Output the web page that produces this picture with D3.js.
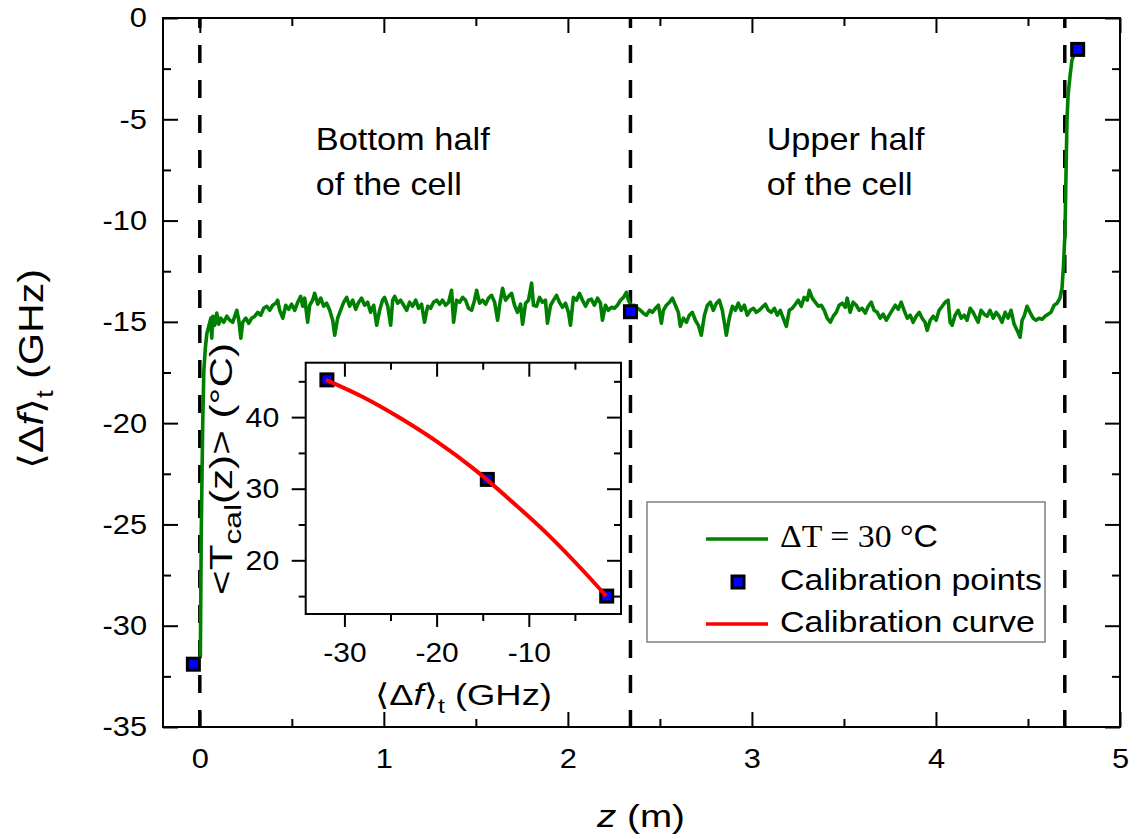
<!DOCTYPE html>
<html><head><meta charset="utf-8">
<script src="https://cdn.jsdelivr.net/npm/d3@7"></script>
<style>
html,body{margin:0;padding:0;background:#fff;}
svg{display:block;}
text{font-family:"Liberation Sans",Arial,"DejaVu Sans",sans-serif;fill:#000;}
</style></head><body>
<svg id="c" width="1141" height="839"></svg>
<script>
// ---------------- data ----------------
const greenZ = [0.000,0.003,0.008,0.016,0.022,0.030,0.038,0.049,0.060,0.065,0.071,0.081,0.092,0.103,0.114,0.130,0.147,0.163,0.179,0.201,0.212,0.223,0.233,0.250,0.266,0.282,0.299,0.315,0.331,0.347,0.364,0.380,0.396,0.413,0.423,0.434,0.451,0.467,0.483,0.499,0.516,0.532,0.548,0.559,0.570,0.586,0.597,0.613,0.624,0.641,0.657,0.673,0.689,0.706,0.722,0.733,0.749,0.765,0.782,0.798,0.814,0.831,0.847,0.863,0.879,0.896,0.912,0.928,0.945,0.961,0.977,0.993,1.004,1.021,1.037,1.048,1.059,1.075,1.091,1.108,1.124,1.140,1.156,1.173,1.189,1.205,1.221,1.238,1.254,1.270,1.287,1.303,1.319,1.336,1.352,1.368,1.379,1.395,1.412,1.428,1.444,1.460,1.477,1.493,1.504,1.520,1.536,1.553,1.569,1.585,1.602,1.618,1.629,1.645,1.661,1.678,1.694,1.710,1.726,1.743,1.754,1.770,1.786,1.803,1.813,1.830,1.846,1.862,1.878,1.889,1.906,1.922,1.938,1.954,1.971,1.987,2.003,2.014,2.030,2.047,2.063,2.079,2.096,2.112,2.128,2.144,2.161,2.177,2.188,2.204,2.220,2.237,2.253,2.269,2.286,2.302,2.318,2.329,2.345,2.362,2.378,2.394,2.410,2.427,2.443,2.459,2.476,2.492,2.508,2.519,2.535,2.552,2.568,2.584,2.600,2.611,2.628,2.644,2.660,2.676,2.693,2.709,2.725,2.742,2.758,2.774,2.790,2.807,2.823,2.839,2.850,2.861,2.877,2.894,2.910,2.926,2.942,2.959,2.975,2.991,3.008,3.024,3.040,3.056,3.073,3.089,3.105,3.122,3.138,3.154,3.170,3.187,3.203,3.219,3.236,3.252,3.268,3.284,3.301,3.312,3.328,3.344,3.361,3.377,3.393,3.409,3.426,3.442,3.458,3.474,3.491,3.507,3.518,3.534,3.550,3.567,3.583,3.599,3.616,3.632,3.648,3.664,3.681,3.697,3.713,3.730,3.746,3.762,3.779,3.795,3.811,3.827,3.844,3.860,3.876,3.893,3.909,3.925,3.941,3.952,3.969,3.985,4.001,4.017,4.034,4.050,4.066,4.077,4.088,4.104,4.121,4.137,4.153,4.169,4.186,4.202,4.218,4.229,4.245,4.262,4.278,4.294,4.311,4.327,4.343,4.359,4.376,4.392,4.408,4.425,4.441,4.457,4.468,4.479,4.495,4.511,4.528,4.544,4.560,4.577,4.593,4.609,4.625,4.642,4.658,4.674,4.685,4.693,4.701,4.707,4.712,4.718,4.729,4.739,4.756,4.767];
const greenF = [-31.6,-31.5,-25.3,-19.9,-17.4,-16.3,-15.6,-15.2,-14.82,-15.81,-14.72,-15.17,-14.57,-15.12,-14.82,-15.02,-14.72,-14.92,-15.02,-14.43,-14.92,-15.81,-15.02,-14.82,-15.07,-14.82,-14.72,-14.53,-14.67,-14.33,-14.23,-14.43,-14.18,-14.08,-13.93,-14.43,-14.82,-14.18,-14.38,-14.13,-14.43,-14.03,-13.74,-14.23,-13.83,-15.02,-14.18,-13.93,-13.59,-14.13,-13.83,-14.23,-14.08,-14.43,-14.92,-15.66,-14.82,-14.43,-14.03,-13.79,-14.23,-13.93,-14.38,-14.03,-13.83,-14.18,-14.03,-14.53,-14.18,-15.17,-14.43,-13.93,-13.79,-14.23,-15.17,-13.93,-13.74,-14.08,-13.93,-14.18,-14.43,-14.03,-14.23,-13.93,-14.33,-14.13,-15.02,-14.23,-14.33,-14.03,-13.93,-14.13,-13.93,-14.18,-14.03,-13.44,-15.02,-13.93,-14.03,-13.79,-13.93,-14.33,-14.43,-13.93,-13.44,-14.08,-13.93,-14.13,-13.83,-13.69,-14.03,-14.92,-14.18,-13.34,-13.93,-13.74,-13.59,-14.18,-14.53,-14.13,-15.12,-14.08,-13.93,-13.09,-14.18,-14.23,-13.79,-14.03,-13.93,-15.07,-14.18,-13.93,-13.69,-14.03,-14.28,-14.08,-14.53,-15.17,-13.79,-13.93,-13.59,-13.93,-14.23,-13.93,-13.88,-14.18,-13.83,-14.08,-14.92,-14.18,-14.43,-14.28,-14.33,-14.18,-13.93,-13.79,-13.54,-13.93,-14.23,-14.18,-14.33,-14.43,-14.57,-14.67,-14.43,-14.53,-14.33,-14.18,-15.07,-14.43,-14.18,-14.03,-13.83,-14.18,-14.53,-15.22,-14.82,-15.02,-14.67,-14.53,-14.92,-15.17,-15.66,-14.67,-14.18,-14.03,-14.43,-14.08,-13.93,-14.43,-15.02,-15.66,-14.82,-14.23,-14.43,-14.08,-14.43,-14.18,-14.67,-14.43,-14.33,-14.53,-14.43,-14.28,-14.13,-14.43,-14.53,-14.33,-14.67,-14.43,-14.82,-15.22,-14.43,-14.33,-14.13,-13.93,-14.23,-13.79,-13.93,-13.44,-13.83,-14.03,-14.23,-14.18,-14.43,-14.82,-15.02,-14.72,-14.53,-14.18,-14.08,-14.28,-13.83,-14.53,-14.03,-14.18,-14.43,-14.33,-14.57,-14.23,-14.03,-14.43,-14.53,-14.82,-14.62,-14.92,-14.67,-14.43,-14.18,-14.38,-14.03,-14.43,-14.82,-14.67,-15.02,-14.72,-14.53,-14.82,-15.02,-15.42,-14.92,-14.72,-14.92,-14.43,-14.23,-14.03,-13.93,-15.02,-15.17,-14.67,-14.43,-14.82,-14.67,-14.92,-14.33,-14.53,-14.82,-15.02,-14.43,-14.62,-14.72,-14.43,-14.82,-14.53,-14.72,-15.02,-14.53,-14.82,-14.43,-15.12,-15.42,-15.76,-14.92,-14.72,-14.23,-14.53,-14.82,-14.92,-14.82,-14.87,-14.72,-14.62,-14.53,-14.18,-14.08,-13.83,-13.34,-12.20,-10.62,-7.51,-5.04,-3.80,-2.82,-2.08,-1.68,-1.53];
const calZ = [-0.035, 2.34, 4.77];
const calF = [-31.9, -14.5, -1.55];
const calT = [45.2, 31.3, 15.0];
const curveF = [-32, -28, -24, -20, -16, -12, -8, -4, -1.6];
const curveT = [45.2, 42.8, 39.9, 36.6, 32.8, 28.4, 23.7, 18.4, 15.0];
const dividerZ = [0, 2.34, 4.70];
const xTicks = [0, 1, 2, 3, 4, 5];
const xMinor = [0.5, 1.5, 2.5, 3.5, 4.5];
const yTicks = [0, -5, -10, -15, -20, -25, -30, -35];
const yMinor = [-2.5, -7.5, -12.5, -17.5, -22.5, -27.5, -32.5];
const insetXTicks = [-30, -20, -10];
const insetXMinor = [-25, -15, -5];
const insetYTicks = [20, 30, 40];
const insetYMinor = [15, 25, 35, 45];
const regionLabels = [["Bottom half", "of the cell"], ["Upper half", "of the cell"]];
const legendLabels = ["Calibration points", "Calibration curve"];

// ---------------- layout ----------------
const svg = d3.select("#c");
const L = 163, R = 1120, T = 18, B = 727;
const x = d3.scaleLinear().domain([-0.2, 5]).range([L, R]);
const y = d3.scaleLinear().domain([-35, 0]).range([B, T]);

const IL = 305.7, IR = 621, IT = 362.7, IB = 614;
const xi = d3.scaleLinear().domain([-34.2, 0]).range([IL, IR]);
const yi = d3.scaleLinear().domain([12.5, 47.6]).range([IB, IT]);

function richText(g, parts, size, family) {
  const t = g.append("text").attr("font-size", size);
  if (family) t.style("font-family", family);
  let shifted = 0;
  parts.forEach(p => {
    const s = t.append("tspan").text(p.t);
    if (p.italic) s.attr("font-style", "italic");
    if (p.family) s.style("font-family", p.family);
    if (p.sub) {
      s.attr("font-size", size * (p.subScale || 0.68)).attr("dy", size * 0.28);
      shifted += size * 0.28;
    } else if (shifted) {
      s.attr("dy", -shifted);
      shifted = 0;
    }
  });
  return t;
}
function place(t, tx, ty, anchor, width, rot) {
  t.attr("text-anchor", anchor);
  let tr = `translate(${tx},${ty})` + (rot ? ` rotate(${rot})` : "");
  if (width) {
    const n = t.node().getComputedTextLength();
    tr += ` scale(${width / n},1)`;
  }
  t.attr("transform", tr);
  return t;
}

// dashed dividers
svg.append("g").selectAll("line").data(dividerZ).join("line")
  .attr("x1", d => x(d)).attr("x2", d => x(d))
  .attr("y1", y(0)).attr("y2", y(-35))
  .attr("stroke", "#000").attr("stroke-width", 3.5)
  .attr("stroke-dasharray", "18,17").attr("stroke-dashoffset", 8);

// green measured curve
const gData = greenZ.map((z, i) => [z, greenF[i]]);
svg.append("path").datum(gData)
  .attr("fill", "none").attr("stroke", "#008000").attr("stroke-width", 3.6)
  .attr("stroke-linejoin", "round")
  .attr("d", d3.line().x(d => x(d[0])).y(d => y(d[1])));

// calibration points (main)
const MS = 12;
svg.append("g").selectAll("rect").data(calZ.map((z, i) => [z, calF[i]])).join("rect")
  .attr("x", d => x(d[0]) - MS / 2).attr("y", d => y(d[1]) - MS / 2)
  .attr("width", MS).attr("height", MS)
  .attr("fill", "#0000ff").attr("stroke", "#000").attr("stroke-width", 3);

// region labels
const rg = svg.append("g");
const regionX = [x(0.63), x(3.08)];
const regionW = [[174, 146], [158, 146]];
regionLabels.forEach((lines, i) => {
  lines.forEach((s, j) => {
    const t = richText(rg, [{t: s}], 32);
    place(t, regionX[i], [150, 195][j], "start", regionW[i][j]);
  });
});

// ---------------- main axes ----------------
function styleAxis(g) {
  g.select(".domain").remove();
  g.selectAll(".tick line").attr("stroke", "#000").attr("stroke-width", 2);
  g.selectAll("text").attr("font-size", 28).attr("fill", "#000")
    .style("font-family", '"Liberation Sans",Arial,sans-serif');
}
const fmt = d => String(d);
let g;
g = svg.append("g").attr("transform", `translate(0,${B})`)
  .call(d3.axisBottom(x).tickValues(xTicks).tickSize(-15).tickFormat(fmt));
styleAxis(g);
g.selectAll("text").attr("y", 41).attr("dy", null).attr("transform", "scale(1.1,1)");
g = svg.append("g").attr("transform", `translate(0,${B})`)
  .call(d3.axisBottom(x).tickValues(xMinor).tickSize(-8).tickFormat(""));
styleAxis(g);
g = svg.append("g").attr("transform", `translate(0,${T})`)
  .call(d3.axisTop(x).tickValues(xTicks).tickSize(-15).tickFormat(""));
styleAxis(g);
g = svg.append("g").attr("transform", `translate(0,${T})`)
  .call(d3.axisTop(x).tickValues(xMinor).tickSize(-8).tickFormat(""));
styleAxis(g);
g = svg.append("g").attr("transform", `translate(${L},0)`)
  .call(d3.axisLeft(y).tickValues(yTicks).tickSize(-15).tickFormat(fmt));
styleAxis(g);
g.selectAll("text").attr("x", -16 / 1.1).attr("transform", "scale(1.1,1)");
g = svg.append("g").attr("transform", `translate(${L},0)`)
  .call(d3.axisLeft(y).tickValues(yMinor).tickSize(-8).tickFormat(""));
styleAxis(g);
g = svg.append("g").attr("transform", `translate(${R},0)`)
  .call(d3.axisRight(y).tickValues(yTicks).tickSize(-15).tickFormat(""));
styleAxis(g);
g = svg.append("g").attr("transform", `translate(${R},0)`)
  .call(d3.axisRight(y).tickValues(yMinor).tickSize(-8).tickFormat(""));
styleAxis(g);
svg.append("rect").attr("x", L).attr("y", T).attr("width", R - L).attr("height", B - T)
  .attr("fill", "none").attr("stroke", "#000").attr("stroke-width", 2);

// axis titles
place(richText(svg, [{t: "z", italic: true}, {t: " (m)"}], 32), 641, 827, "middle", 88);
place(richText(svg, [{t: "\u27E8\u0394"}, {t: "f", italic: true}, {t: "\u27E9"}, {t: "t", sub: true}, {t: " (GHz)"}], 35),
  43, 369, "middle", 200, -90);

// ---------------- inset ----------------
const ig = svg.append("g");
ig.append("rect").attr("x", IL).attr("y", IT).attr("width", IR - IL).attr("height", IB - IT)
  .attr("fill", "#fff");
ig.append("g").selectAll("rect").data(calF.map((f, i) => [f, calT[i]])).join("rect")
  .attr("x", d => xi(d[0]) - MS / 2).attr("y", d => yi(d[1]) - MS / 2)
  .attr("width", MS).attr("height", MS)
  .attr("fill", "#0000ff").attr("stroke", "#000").attr("stroke-width", 3);
ig.append("path").datum(curveF.map((f, i) => [f, curveT[i]]))
  .attr("fill", "none").attr("stroke", "#ff0000").attr("stroke-width", 4)
  .attr("d", d3.line().x(d => xi(d[0])).y(d => yi(d[1])).curve(d3.curveMonotoneX));

g = ig.append("g").attr("transform", `translate(0,${IB})`)
  .call(d3.axisBottom(xi).tickValues(insetXTicks).tickSize(13).tickFormat(fmt));
styleAxis(g);
g.selectAll("text").attr("y", 48).attr("dy", null).attr("transform", "scale(1.07,1)");
g = ig.append("g").attr("transform", `translate(0,${IB})`)
  .call(d3.axisBottom(xi).tickValues(insetXMinor).tickSize(7).tickFormat(""));
styleAxis(g);
g = ig.append("g").attr("transform", `translate(0,${IT})`)
  .call(d3.axisTop(xi).tickValues(insetXTicks).tickSize(-14).tickFormat(""));
styleAxis(g);
g = ig.append("g").attr("transform", `translate(0,${IT})`)
  .call(d3.axisTop(xi).tickValues(insetXMinor).tickSize(-7).tickFormat(""));
styleAxis(g);
g = ig.append("g").attr("transform", `translate(${IL},0)`)
  .call(d3.axisLeft(yi).tickValues(insetYTicks).tickSize(14).tickFormat(fmt));
styleAxis(g);
g.selectAll("text").attr("x", -26.5 / 1.08).attr("transform", "scale(1.08,1)");
g = ig.append("g").attr("transform", `translate(${IL},0)`)
  .call(d3.axisLeft(yi).tickValues(insetYMinor).tickSize(7).tickFormat(""));
styleAxis(g);
g = ig.append("g").attr("transform", `translate(${IR},0)`)
  .call(d3.axisRight(yi).tickValues(insetYTicks).tickSize(-14).tickFormat(""));
styleAxis(g);
g = ig.append("g").attr("transform", `translate(${IR},0)`)
  .call(d3.axisRight(yi).tickValues(insetYMinor).tickSize(-7).tickFormat(""));
styleAxis(g);
ig.append("rect").attr("x", IL).attr("y", IT).attr("width", IR - IL).attr("height", IB - IT)
  .attr("fill", "none").attr("stroke", "#000").attr("stroke-width", 2);

place(richText(ig, [{t: "\u27E8\u0394"}, {t: "f", italic: true}, {t: "\u27E9"}, {t: "t", sub: true}, {t: " (GHz)"}], 30),
  463.5, 705, "middle", 177);
place(richText(ig, [{t: "<T"}, {t: "cal", sub: true, subScale: 0.75}, {t: "(z)> (\u00B0C)"}], 32),
  232, 469, "middle", 252, -90);

// ---------------- legend ----------------
const lg = svg.append("g");
lg.append("rect").attr("x", 647).attr("y", 502).attr("width", 398).attr("height", 140)
  .attr("fill", "#fff").attr("stroke", "#808080").attr("stroke-width", 1.5);
lg.append("line").attr("x1", 706).attr("x2", 768).attr("y1", 539).attr("y2", 539)
  .attr("stroke", "#008000").attr("stroke-width", 3.5);
lg.append("rect").attr("x", 738 - MS / 2).attr("y", 582 - MS / 2).attr("width", MS).attr("height", MS)
  .attr("fill", "#0000ff").attr("stroke", "#000").attr("stroke-width", 3);
lg.append("line").attr("x1", 706).attr("x2", 768).attr("y1", 624).attr("y2", 624)
  .attr("stroke", "#ff0000").attr("stroke-width", 3.5);
place(richText(lg, [{t: "\u0394T = 30 \u00B0"}, {t: "C", family: '"Liberation Sans",Arial,sans-serif'}], 31,
  '"Liberation Serif","Times New Roman",serif'), 780, 547, "start", 158);
place(richText(lg, [{t: legendLabels[0]}], 30), 780, 590, "start", 262);
place(richText(lg, [{t: legendLabels[1]}], 30), 780, 632, "start", 255);
</script>
</body></html>
